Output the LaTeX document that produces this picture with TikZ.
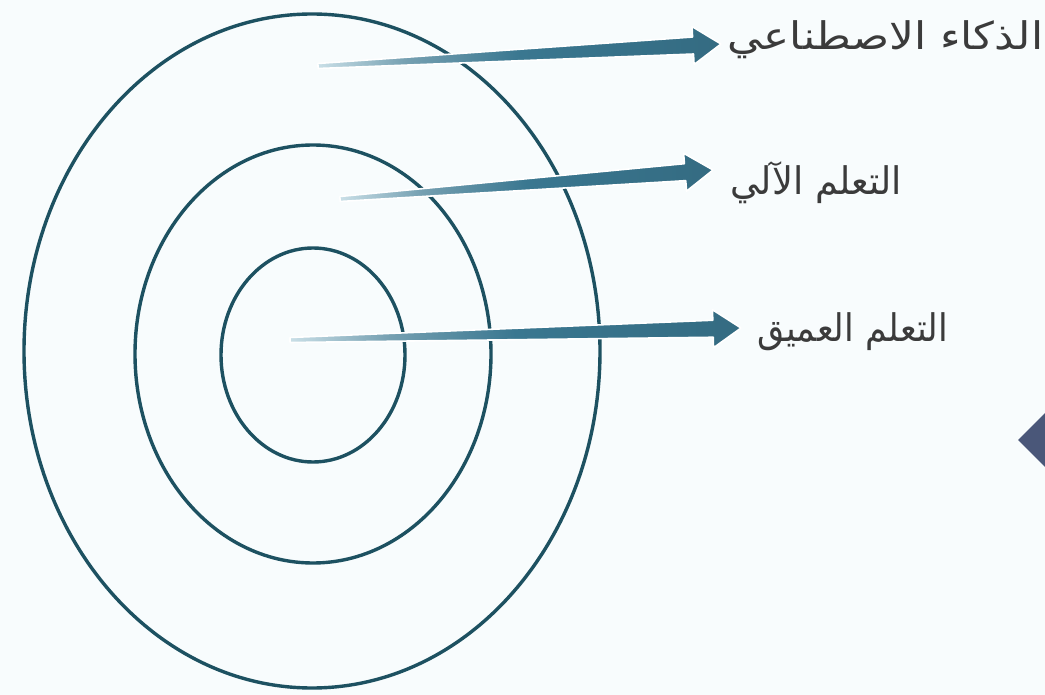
\documentclass[tikz,border=0pt]{standalone}
\usepackage{fontspec}
\newfontfamily\arabicfont[Script=Arabic]{DejaVu Sans}
\TeXXeTstate=1
\usetikzlibrary{calc}
\definecolor{ringc}{HTML}{1D5161}
\definecolor{arrdark}{HTML}{3A7790}
\definecolor{arrlight}{HTML}{C9DFE7}
\definecolor{txtc}{HTML}{3B3B3B}
\definecolor{tric}{HTML}{4A5779}
\definecolor{bgc}{HTML}{F8FCFD}
\pgfdeclarehorizontalshading{arrowshd}{100bp}{color(0bp)=(arrlight); color(25bp)=(arrlight); color(36bp)=(arrdark!70); color(50bp)=(arrdark); color(75bp)=(arrdark!90!black); color(100bp)=(arrdark!90!black)}
\tikzset{
  ring/.style={draw=ringc, line width=3.4pt},
  lab/.style={font=\arabicfont\fontsize{38}{44}\selectfont, text=txtc, inner sep=0pt, anchor=west},
  arrowbody/.style={shading=arrowshd, draw=white, line width=1.6pt, line join=round},
  arrowshade/.style={fill=black, opacity=0.22},
}
\newcommand\arrowpath[2]{($(#1)!2.5pt!90:(#2)$) -- ($(#1-b)!8.5pt!90:(#2)$) -- ($(#1-b)!19pt!90:(#2)$) -- (#2) -- ($(#1-b)!19pt!-90:(#2)$) -- ($(#1-b)!8.5pt!-90:(#2)$) -- ($(#1)!2.5pt!-90:(#2)$) -- cycle}
\newcommand\fatarrow[2]{%
  \coordinate (#1-b) at ($(#2)!28pt!(#1)$);
  \fill[arrowshade, xshift=1pt, yshift=-5pt] \arrowpath{#1}{#2};
  \shadedraw[arrowbody] \arrowpath{#1}{#2};
}
\begin{document}
\begin{tikzpicture}[x=1pt,y=-1pt]
\fill[bgc] (0,0) rectangle (1045,695);
\useasboundingbox (0,0) rectangle (1045,695);
% rings
\draw[ring] (312,351) ellipse [x radius=288, y radius=337];
\draw[ring] (313,354) ellipse [x radius=178, y radius=209];
\draw[ring] (313,355) ellipse [x radius=92, y radius=107];
% labels
\node[lab] (l1) at (727,40) {\scalebox{1.15}[1]{\beginR الذكاء الاصطناعي\endR}};
\node[lab] (l2) at (730,183) {\scalebox{0.97}[1]{\beginR التعلم الآلي\endR}};
\node[lab] (l3) at (757,332) {\scalebox{0.92}[1]{\beginR التعلم العميق\endR}};
% arrow ends
\coordinate (t1) at (318,66);
\coordinate (t2) at (340,199);
\coordinate (t3) at (290,340);
\coordinate (h1) at ($(l1.west)+(-6,4)$);
\coordinate (h2) at ($(l2.west)+(-17,-13)$);
\coordinate (h3) at ($(l3.west)+(-16,-4)$);
\fatarrow{t1}{h1}
\fatarrow{t2}{h2}
\fatarrow{t3}{h3}
% corner triangle
\fill[tric] (1018,440) -- (1047,411) -- (1047,469) -- cycle;
\end{tikzpicture}
\end{document}
